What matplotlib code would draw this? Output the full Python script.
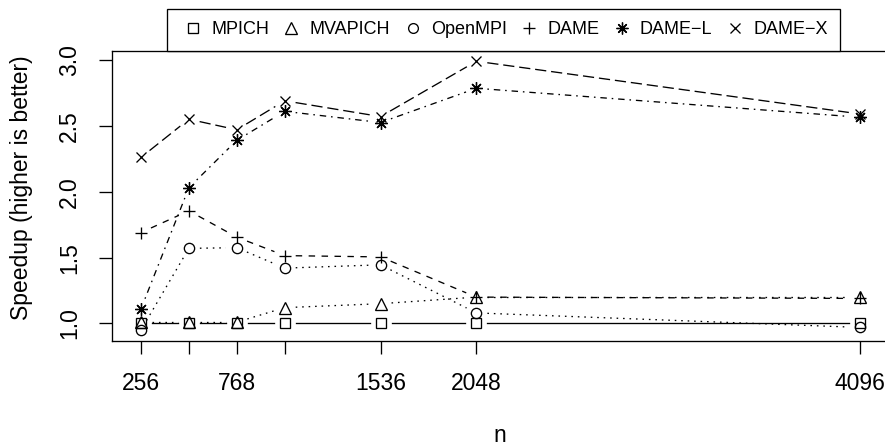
import matplotlib
matplotlib.use("Agg")
from matplotlib import pyplot as plt
from matplotlib.lines import Line2D
import numpy as np

# message sizes (n) and speedups
n = [256, 512, 768, 1024, 1536, 2048, 4096]
n_labels = ["256", "", "768", "", "1536", "2048", "4096"]

mpich   = [1.00, 1.00, 1.00, 1.00, 1.00, 1.00, 1.00]
mvapich = [1.01, 1.01, 1.01, 1.12, 1.15, 1.20, 1.20]
openmpi = [0.95, 1.57, 1.575, 1.42, 1.445, 1.08, 0.97]
dame    = [1.69, 1.855, 1.655, 1.515, 1.505, 1.20, 1.19]
dame_l  = [1.11, 2.03, 2.39, 2.61, 2.525, 2.785, 2.565]
dame_x  = [2.26, 2.55, 2.47, 2.69, 2.57, 2.99, 2.59]

series = [
    ("MPICH",      mpich,   "s",        7.4, "-"),
    ("MVAPICH",    mvapich, "^",        8.6, (0, (1.2, 3.7))),
    ("OpenMPI",    openmpi, "o",        7.4, (0, (1.2, 3.7))),
    ("DAME",       dame,    "+",        8.8, (0, (4.9, 4.9))),
    ("DAME\u2212L", dame_l, (8, 2, 0),  9.0, (0, (1.2, 3.7, 4.9, 3.7))),
    ("DAME\u2212X", dame_x, "x",        7.8, (0, (8.5, 3.7))),
]

plt.rcParams["font.family"] = ["Liberation Sans", "DejaVu Sans"]

W, H = 885, 445
fig = plt.figure(figsize=(W / 100, H / 100), dpi=100)
ax = fig.add_axes([112.2 / W, 1 - 340.8 / H, (888.5 - 112.2) / W, (340.8 - 50.5) / H])

# R style 4% padding around the data
allv = mpich + mvapich + openmpi + dame + dame_l + dame_x
xr = max(n) - min(n)
yr = max(allv) - min(allv)
ax.set_xlim(min(n) - 0.04 * xr, max(n) + 0.04 * xr)
ax.set_ylim(min(allv) - 0.04 * yr, max(allv) + 0.04 * yr)

GAP = 11  # px left blank round each point, like R type="b"
inv = ax.transData.inverted()

handles = []
for label, vals, mk, ms, ls in series:
    pts = ax.transData.transform(np.column_stack([n, vals]))
    for p0, p1 in zip(pts[:-1], pts[1:]):
        d = p1 - p0
        L = np.hypot(*d)
        if L <= 2 * GAP:
            continue
        u = d / L
        seg = inv.transform([p0 + u * GAP, p1 - u * GAP])
        ax.plot(seg[:, 0], seg[:, 1], color="black", linewidth=0.95, linestyle=ls)
    ax.plot(n, vals, linestyle="none", marker=mk, markersize=ms,
            markerfacecolor="none", markeredgecolor="black", markeredgewidth=0.95)
    handles.append(Line2D([], [], linestyle="none", marker=mk, markersize=ms * 0.95,
                          markerfacecolor="none", markeredgecolor="black",
                          markeredgewidth=0.95, label=label))

ax.set_xticks(n)
ax.set_xticklabels(n_labels)
ax.set_yticks([1.0, 1.5, 2.0, 2.5, 3.0])
ax.set_yticklabels(["1.0", "1.5", "2.0", "2.5", "3.0"])
ax.tick_params(axis="both", direction="out", length=9.6, width=0.95,
               labelsize=16.5, pad=13)
ax.tick_params(axis="y", labelrotation=90)
for t in ax.get_yticklabels():
    t.set_va("center")

for sp in ax.spines.values():
    sp.set_linewidth(0.95)

fig.text(499.5 / W, 1 - 442.5 / H, "n", ha="center", va="baseline", fontsize=16.5)
fig.text(21.5 / W, 1 - 187.5 / H, "Speedup (higher is better)", rotation=90,
         ha="center", va="center", fontsize=16.5)

leg = fig.legend(handles=handles, loc="lower center",
                 bbox_to_anchor=(503.5 / W, 1 - 50.7 / H), ncol=6,
                 frameon=True, fancybox=False, edgecolor="black", framealpha=1,
                 borderpad=0.68, handlelength=1.5, handletextpad=0.25,
                 columnspacing=0.5, fontsize=13, borderaxespad=0)
leg.get_frame().set_linewidth(0.95)

fig.savefig("out.png", dpi=100)
plt.close(fig)
